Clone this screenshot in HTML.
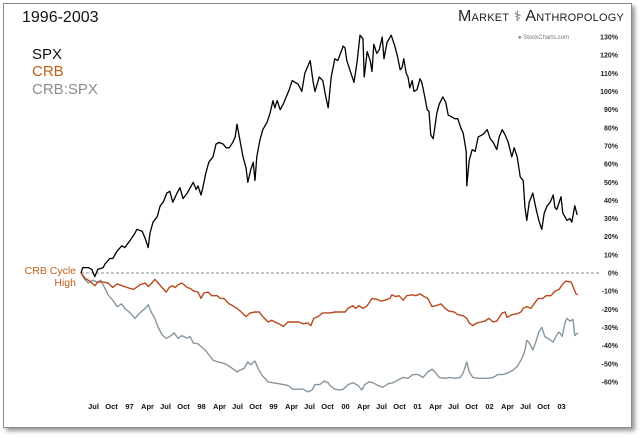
<!DOCTYPE html>
<html><head><meta charset="utf-8">
<style>
body{margin:0;background:#fff;}
#wrap{position:relative;width:640px;height:438px;overflow:hidden;background:#fff;font-family:"Liberation Sans",sans-serif;}
#frame{position:absolute;left:3px;top:3px;width:627px;height:423px;border:1px solid #8a8a8a;box-shadow:3px 3px 4px #9a9a9a;background:#fff;}
.t{position:absolute;white-space:nowrap;}
</style></head><body>
<div id="wrap">
<div id="frame"></div>
<div class="t" style="left:22px;top:9px;font-size:16px;color:#111;">1996-2003</div>
<div class="t" style="left:32px;top:46px;font-size:15px;color:#111;">SPX</div>
<div class="t" style="left:32px;top:63px;font-size:15px;color:#c0601a;">CRB</div>
<div class="t" style="left:32px;top:81px;font-size:15px;color:#8d8d8d;">CRB:SPX</div>
<div class="t" style="left:458px;top:8px;font-size:16px;color:#222;font-variant:small-caps;letter-spacing:0.2px;">Market <span style="font-size:14px;color:#555">⚕</span> Anthropology</div>
<div class="t" style="left:518px;top:35px;font-size:6px;color:#777;">● StockCharts.com</div>
<div class="t" style="left:18px;top:265px;font-size:10.5px;color:#c0601a;text-align:right;width:58px;line-height:12px;">CRB Cycle<br>High</div>
<svg id="plot" width="640" height="438" style="position:absolute;left:0;top:0;"></svg>
</div>
<script>
const spxT=[0,.3,1.2,1.8,2.3,2.8,3.7,4,4.8,5.3,6,6.8,7.3,8.2,9,9.3,10.2,10.7,11.2,11.5,12,12.7,13.2,13.7,14.3,14.8,15.3,16,16.5,17,17.7,18.2,18.7,19.2,19.5,20,20.3,20.8,21.3,22,22.5,23,23.7,24.2,24.7,25.3,25.7,26,26.5,27,27.5,27.8,28.3,28.7,29,29.3,29.8,30.3,31,31.5,32,32.3,32.7,33.2,33.7,34.2,34.7,35.2,35.7,36.2,36.8,37.3,38.2,38.7,39,39.7,40.3,40.8,41.2,41.7,42.3,42.8,43.7,44,44.3,44.8,45.5,46,46.5,47,47.2,47.7,48.2,48.5,48.8,49.3,49.7,50.2,50.5,51,51.7,52.3,52.7,53.2,53.5,53.8,54.2,54.5,54.8,55.2,55.5,56,56.5,56.8,57.3,57.7,58,58.3,58.7,59.3,59.7,60.3,60.8,61.2,61.8,62.3,62.8,63.3,63.7,64.2,64.3,64.7,65.2,65.7,66.2,66.8,67.2,67.7,68.2,68.7,69.3,69.7,70.2,70.7,71.2,71.8,72.2,72.7,73.2,73.7,74,74.3,74.7,75.3,75.8,76.3,76.8,77.2,77.7,78.2,78.7,79,79.3,80,80.3,81,81.5,81.8,82.3,82.7];
const spxV=[0,3,3,2,-2,2,3,5,8,8,12,15,14,18,22,24,23,19,14,22,28,31,37,39,44,45,39,44,47,41,44,47,50,46,48,43,47,55,61,64,71,72,71,69,69,72,75,82,73,64,58,50,57,61,51,64,73,79,83,88,95,91,95,90,93,97,101,106,105,104,100,110,117,105,100,108,106,97,91,108,118,117,125,124,117,112,105,116,131,129,108,122,117,111,126,121,123,130,118,127,131,125,120,112,113,118,110,108,102,106,100,101,107,105,97,90,89,76,74,88,93,97,94,87,86,85,85,80,77,67,48,62,68,67,75,76,77,79,74,72,68,75,79,76,72,64,69,64,53,51,36,29,39,44,36,29,24,33,37,39,43,36,35,42,33,29,30,28,37,32];
const crbT=[0,.7,1.5,2.3,2.8,3.7,4.5,5.3,6,6.8,7.7,8.2,8.8,9.8,10.7,11.2,11.8,12.3,13,13.5,14.2,14.7,15.2,15.7,16.2,16.8,17.7,18.2,18.8,19.5,20,20.5,21.2,21.8,22.7,23.2,23.8,24.7,25.3,26,26.7,27.5,28.2,29,29.7,30.3,31.2,31.8,32.3,33,33.7,34.5,35.2,35.7,36.3,37,37.8,38.3,38.8,39.5,40.3,41.2,41.5,42.3,43.2,44,44.5,45.3,45.8,46.3,47,47.7,48.5,49.3,50,50.7,51.5,51.8,52.5,53,53.7,54.3,55.2,55.8,56.5,57.2,57.8,58.5,59.2,60,60.7,61.3,62.2,62.8,63.7,64.3,64.7,65.3,66,66.7,67.3,68,68.7,69.3,70.2,70.7,71,71.8,72.7,73.3,73.7,74.3,75,75.5,76.2,77,77.5,78.3,79,79.7,80.3,80.8,81.7,82,82.5,82.8];
const crbV=[0,-3,-4.5,-7,-5,-5,-5.5,-8,-6,-7,-8,-8.5,-9,-6.5,-5.5,-7.5,-5.5,-3.5,-6,-8,-10.5,-8,-7,-8,-6.5,-5.5,-8,-8.5,-10,-10.5,-14,-11,-10.5,-12.5,-12.5,-14,-14,-17,-18,-19.5,-21.5,-24,-22,-21.5,-21.5,-24,-27,-26,-27,-28,-29.5,-27,-27,-27,-27,-28,-27.5,-29,-25,-24,-22,-22,-22,-21.5,-21.5,-21.5,-19.5,-18,-19.5,-18,-19.5,-18,-14,-14.5,-15.5,-15,-14,-12,-13,-12.5,-15,-12.5,-12,-12.5,-11.5,-13,-14,-18.5,-18,-17,-19.5,-21,-21.5,-23,-23.5,-25,-27.5,-29,-27.5,-27,-26.5,-25,-27,-26.5,-22,-21.5,-24.5,-23,-22.5,-21.5,-19.5,-18.5,-19.5,-17,-14,-14,-12.5,-12.5,-10,-9,-6,-4.5,-5,-7.5,-11.5,-12];
const ratT=[0,.5,1.2,2,2.7,3.3,4,4.5,5.3,6,6.8,7.3,8.2,9,9.8,10.7,11.2,11.7,12.3,12.8,13.5,14.2,14.8,15.5,16.2,16.8,17.7,18.2,18.7,19.5,20,20.7,21.3,22,22.8,23.5,24.3,25.2,26,26.5,27.2,27.8,28.3,29,29.5,30.2,31.2,32,33,33.7,34.5,35.3,36.2,37,37.8,38.5,39,39.8,40.5,41.2,41.5,42.3,43.2,43.7,44.5,45.3,46.2,46.8,47.3,48,48.7,49.5,50.3,51.2,52,52.8,53.7,54.5,55.3,56.2,57,57.8,58.5,59,59.7,60.7,61.5,62.3,63.2,63.7,64.3,64.7,65.3,66.2,67,67.8,68.7,69.5,70.3,71.2,72,72.7,73.5,74,74.3,74.7,75.3,75.8,76.3,76.8,77.3,78,78.7,79.3,79.7,80.2,80.7,81,81.5,82,82.3,82.8];
const ratV=[0,-3,-5.5,-4,-5,-4,-8.5,-12,-15,-18.5,-17,-19.5,-22,-25,-22,-19.5,-17.5,-21.5,-25,-29.5,-34,-36,-35,-33,-36,-34.5,-36,-35,-38.5,-39,-40.5,-42.5,-45,-48,-49,-49.5,-50.5,-52.5,-54.5,-53.5,-52.5,-49,-50.5,-48.5,-52.5,-56.5,-60,-60.5,-61,-61.5,-62,-64,-64,-64,-65.5,-64.5,-61.5,-61.5,-59.5,-60.5,-62,-64,-64.5,-64,-61.5,-60.5,-62,-64.5,-61.5,-60,-60.5,-62,-63,-61,-60.5,-59,-57.5,-58,-56,-56,-57.5,-54.5,-53,-54.5,-57.5,-58,-57.5,-58,-57.5,-55,-49,-54.5,-57.5,-58,-58,-58,-57.5,-56,-56,-55,-53.5,-51.5,-47,-42.5,-37,-38.5,-42.5,-38,-32.5,-30,-35,-36.5,-38,-34,-32.5,-35,-27,-25,-26.5,-25.5,-34.5,-33];
const yTicks=[130,120,110,100,90,80,70,60,50,40,30,20,10,0,-10,-20,-30,-40,-50,-60];
const xLabels=["Jul","Oct","97","Apr","Jul","Oct","98","Apr","Jul","Oct","99","Apr","Jul","Oct","00","Apr","Jul","Oct","01","Apr","Jul","Oct","02","Apr","Jul","Oct","03"];
const xLabelMonths=[1,4,7,10,13,16,19,22,25,28,31,34,37,40,43,46,49,52,55,58,61,64,67,70,73,76,79];

const NS="http://www.w3.org/2000/svg";
const svg=document.getElementById('plot');
function xS(t){return 81+6*t;}
function yS(p){return 273-1.815*p;}
function mk(tag,attrs){const e=document.createElementNS(NS,tag);for(const k in attrs)e.setAttribute(k,attrs[k]);svg.appendChild(e);return e;}

const zl=mk('line',{x1:xS(0),x2:600,y1:yS(0),y2:yS(0),stroke:'#888','stroke-width':1,'stroke-dasharray':'3,2'});



yTicks.forEach(v=>{
  const t=mk('text',{x:618,y:yS(v)+2.5,'text-anchor':'end','font-size':'7','font-weight':'bold',fill:'#222','font-family':'Liberation Sans, sans-serif'});
  t.textContent=v+'%';
  
  
});
xLabels.forEach((l,i)=>{
  const t=mk('text',{x:xS(xLabelMonths[i])+6.5,y:409,'text-anchor':'middle','font-size':'7.5','font-weight':'bold',fill:'#111','font-family':'Liberation Sans, sans-serif'});
  t.textContent=l;
  
  
});
function path(T,V){return T.map((t,i)=>(i?'L':'M')+xS(t).toFixed(1)+','+yS(V[i]).toFixed(1)).join('');}
const pr=mk('path',{d:path(ratT,ratV),fill:'none',stroke:'#8696a0','stroke-width':1.4,'stroke-linejoin':'round'});


const pc=mk('path',{d:path(crbT,crbV),fill:'none',stroke:'#b8481c','stroke-width':1.4,'stroke-linejoin':'round'});


const ps=mk('path',{d:path(spxT,spxV),fill:'none',stroke:'#000','stroke-width':1.3,'stroke-linejoin':'round'});


</script>
</body></html>
